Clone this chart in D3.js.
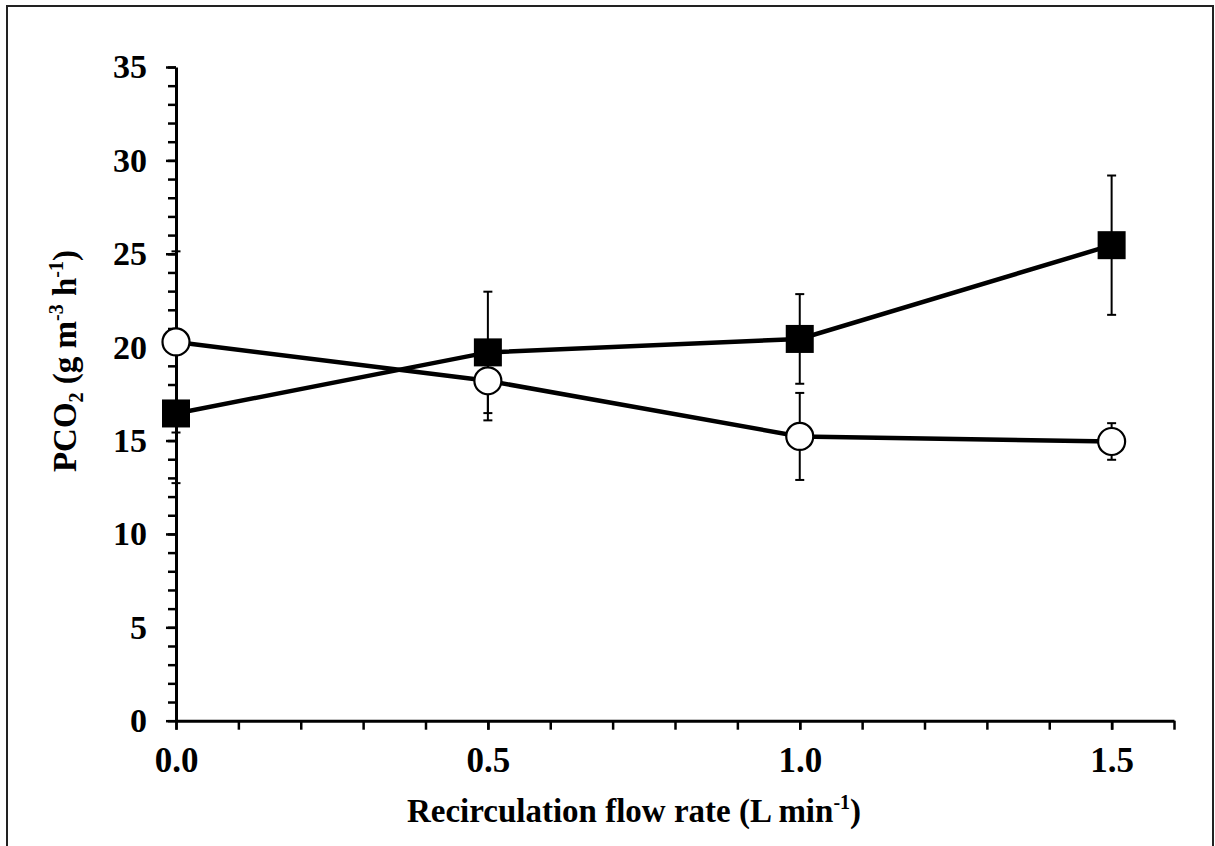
<!DOCTYPE html>
<html>
<head>
<meta charset="utf-8">
<script src="https://cdn.jsdelivr.net/npm/d3@7"></script>
<style>
  html, body { margin: 0; padding: 0; background: #fff; }
  svg { display: block; }
  text { font-family: "Liberation Serif", "Times New Roman", serif; font-weight: bold; fill: #000; }
</style>
</head>
<body>
<svg id="chart" width="1215" height="846"></svg>
<script>
// ---- data ----
const flowRates = [0.0, 0.5, 1.0, 1.5];
const squareValues = [16.45, 19.72, 20.44, 25.46];
const squareErrors = [3.73, 3.25, 2.40, 3.73];
const circleValues = [20.28, 18.20, 15.22, 14.95];
const circleErrors = [4.85, 2.12, 2.33, 0.98];
const yTickLabels = [0, 5, 10, 15, 20, 25, 30, 35];
const xTickLabels = [0.0, 0.5, 1.0, 1.5];

const squareSeries = flowRates.map((x, i) => ({ x, v: squareValues[i], e: squareErrors[i] }));
const circleSeries = flowRates.map((x, i) => ({ x, v: circleValues[i], e: circleErrors[i] }));

const svg = d3.select("#chart");

// frame
svg.append("rect")
  .attr("x", 7).attr("y", 6).attr("width", 1206).attr("height", 850)
  .attr("fill", "none").attr("stroke", "#222").attr("stroke-width", 2);

const x = d3.scaleLinear().domain([0, 1.6]).range([176, 1174]);
const y = d3.scaleLinear().domain([0, 35]).range([720.7, 67]);

const FONT = "Liberation Serif, Times New Roman, serif";

// y minor ticks
const yMinor = svg.append("g").attr("transform", `translate(${x(0)},0)`)
  .call(d3.axisLeft(y).tickValues(d3.range(0, 36, 1)).tickSize(8).tickFormat(""));
yMinor.select(".domain").remove();
yMinor.selectAll("line").attr("stroke", "#000").attr("stroke-width", 2.5);

// y major axis
const yAxis = svg.append("g").attr("transform", `translate(${x(0)},0)`)
  .call(d3.axisLeft(y).tickValues(yTickLabels).tickSize(10).tickSizeOuter(0).tickPadding(19).tickFormat(d3.format("d")));
yAxis.select(".domain").attr("stroke", "#000").attr("stroke-width", 3);
yAxis.selectAll("line").attr("stroke", "#000").attr("stroke-width", 2.5);
yAxis.selectAll("text").attr("font-size", 34).attr("font-family", FONT).attr("font-weight", "bold");

// x minor ticks
const xMinor = svg.append("g").attr("transform", `translate(0,${y(0)})`)
  .call(d3.axisBottom(x).tickValues(d3.range(0, 17, 1).map(d => d / 10)).tickSize(9).tickFormat(""));
xMinor.select(".domain").remove();
xMinor.selectAll("line").attr("stroke", "#000").attr("stroke-width", 2.5);

// x major axis
const xAxis = svg.append("g").attr("transform", `translate(0,${y(0)})`)
  .call(d3.axisBottom(x).tickValues(xTickLabels).tickSize(9).tickSizeOuter(0).tickPadding(17).tickFormat(d3.format(".1f")));
xAxis.select(".domain").attr("stroke", "#000").attr("stroke-width", 3);
xAxis.selectAll("line").attr("stroke", "#000").attr("stroke-width", 2.5);
xAxis.selectAll("text").attr("font-size", 35).attr("font-family", FONT).attr("font-weight", "bold");

// error bars
function drawErrors(data) {
  const g = svg.append("g").attr("stroke", "#000").attr("stroke-width", 2);
  const capW = 4.5;
  data.forEach(d => {
    g.append("line").attr("x1", x(d.x)).attr("x2", x(d.x)).attr("y1", y(d.v - d.e)).attr("y2", y(d.v + d.e));
    g.append("line").attr("x1", x(d.x) - capW).attr("x2", x(d.x) + capW).attr("y1", y(d.v - d.e)).attr("y2", y(d.v - d.e));
    g.append("line").attr("x1", x(d.x) - capW).attr("x2", x(d.x) + capW).attr("y1", y(d.v + d.e)).attr("y2", y(d.v + d.e));
  });
}
drawErrors(squareSeries);
drawErrors(circleSeries);

// lines
const line = d3.line().x(d => x(d.x)).y(d => y(d.v));
svg.append("path").datum(squareSeries).attr("d", line)
  .attr("fill", "none").attr("stroke", "#000").attr("stroke-width", 4.5);
svg.append("path").datum(circleSeries).attr("d", line)
  .attr("fill", "none").attr("stroke", "#000").attr("stroke-width", 4.5);

// markers
const sq = 28;
svg.append("g").selectAll("rect").data(squareSeries).join("rect")
  .attr("x", d => x(d.x) - sq / 2).attr("y", d => y(d.v) - sq / 2)
  .attr("width", sq).attr("height", sq).attr("fill", "#000");
svg.append("g").selectAll("circle").data(circleSeries).join("circle")
  .attr("cx", d => x(d.x)).attr("cy", d => y(d.v)).attr("r", 13.5)
  .attr("fill", "#fff").attr("stroke", "#000").attr("stroke-width", 2.2);

// x label
const xl = svg.append("text").attr("x", 634).attr("y", 822).attr("text-anchor", "middle").attr("font-size", 33);
xl.append("tspan").text("Recirculation flow rate (L min");
xl.append("tspan").attr("font-size", 20).attr("dy", -13).text("-1");
xl.append("tspan").attr("dy", 13).text(")");

// y label
const yl = svg.append("text").attr("transform", "translate(76,361) rotate(-90)").attr("text-anchor", "middle").attr("font-size", 33);
yl.append("tspan").text("PCO");
yl.append("tspan").attr("font-size", 20).attr("dy", 7).text("2");
yl.append("tspan").attr("dy", -7).text(" (g m");
yl.append("tspan").attr("font-size", 20).attr("dy", -13).text("-3");
yl.append("tspan").attr("dy", 13).text(" h");
yl.append("tspan").attr("font-size", 20).attr("dy", -13).text("-1");
yl.append("tspan").attr("dy", 13).text(")");
</script>
</body>
</html>
